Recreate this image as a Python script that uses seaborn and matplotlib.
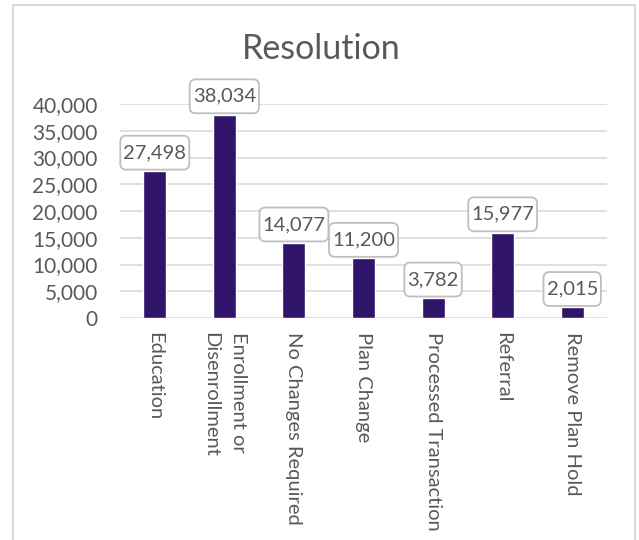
import matplotlib
matplotlib.use("Agg")
import matplotlib.pyplot as plt
from matplotlib.lines import Line2D
from matplotlib.patches import BoxStyle
from matplotlib.ticker import FuncFormatter, MultipleLocator
import seaborn as sns

categories = [
    "Education",
    "Enrollment or\nDisenrollment",
    "No Changes Required",
    "Plan Change",
    "Processed Transaction",
    "Referral",
    "Remove Plan Hold",
]
counts = [27498, 38034, 14077, 11200, 3782, 15977, 2015]
title = "Resolution"

bar_color = "#30146A"
text_color = "#595959"
grid_color = "#D9D9D9"

sns.set_theme(style="white")
plt.rcParams["font.family"] = ["Lato", "DejaVu Sans"]


def label_box(x0, y0, width, height, mutation_size):
    """Rounded callout box with separate horizontal and vertical padding."""
    px, py = 0.15 * mutation_size, 0.42 * mutation_size
    rounded = BoxStyle.Round(pad=0, rounding_size=0.3 * mutation_size)
    return rounded(x0 - px, y0 - py, width + 2 * px, height + 2 * py, 1.0)


fig = plt.figure(figsize=(6.39, 5.40), dpi=100)
ax = fig.add_axes([120 / 639, 1 - 318 / 540, (607 - 120) / 639, (318 - 104) / 540])

sns.barplot(x=categories, y=counts, color=bar_color, width=0.33,
            saturation=1, ax=ax)

ax.set_ylim(0, 40000)
ax.yaxis.set_major_locator(MultipleLocator(5000))
ax.yaxis.set_major_formatter(FuncFormatter(lambda v, p: f"{int(v):,}"))
ax.set_xlim(-0.5, len(categories) - 0.5)
ax.set_axisbelow(True)
ax.grid(axis="y", color=grid_color, linewidth=1.2)
for s in ax.spines.values():
    s.set_visible(False)
ax.set_xlabel("")
ax.set_ylabel("")
ax.tick_params(axis="y", labelsize=15, colors=text_color, length=0, pad=16)
ax.tick_params(axis="x", labelsize=14.5, colors=text_color, length=0, pad=10)
for lbl in ax.get_xticklabels():
    lbl.set_rotation(-90)
    lbl.set_va("top")
    lbl.set_ha("center")
    lbl.set_multialignment("left")
    lbl.set_linespacing(1.8)

ax.bar_label(
    ax.containers[0],
    labels=[f"{v:,}" for v in counts],
    padding=7,
    fontsize=14.5,
    color=text_color,
    bbox=dict(boxstyle=label_box, facecolor="white",
              edgecolor="#BFBFBF", linewidth=1.3),
)

fig.text(0.503, 1 - 49 / 540, title, ha="center", va="center",
         fontsize=24.5, color=text_color)

# light frame around the chart (left, top, right)
frame_kw = dict(color="#D9D9D9", linewidth=1.5, transform=fig.transFigure)
x0, x1, y1 = 13 / 639, 635 / 639, 1 - 5 / 540
fig.add_artist(Line2D([x0, x0], [0, y1], **frame_kw))
fig.add_artist(Line2D([x0, x1], [y1, y1], **frame_kw))
fig.add_artist(Line2D([x1, x1], [0, y1], **frame_kw))

fig.savefig("out.png", dpi=100, facecolor="white")
